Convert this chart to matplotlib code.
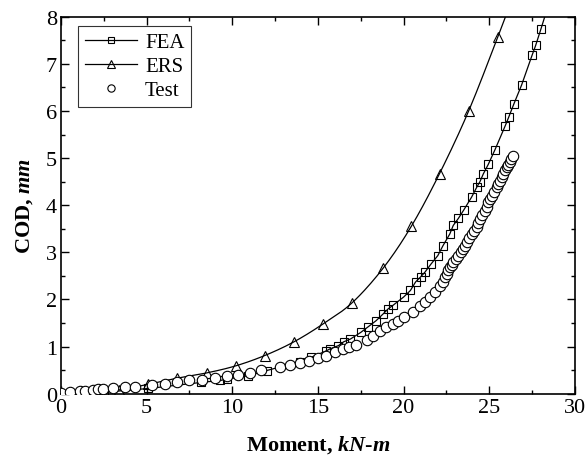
import matplotlib
matplotlib.use("Agg")
import matplotlib.pyplot as plt
import numpy as np
from matplotlib.ticker import MultipleLocator

plt.rcParams['font.family'] = ['Liberation Serif', 'DejaVu Serif']
plt.rcParams['mathtext.fontset'] = 'custom'
plt.rcParams['mathtext.rm'] = 'Liberation Serif'
plt.rcParams['mathtext.it'] = 'Liberation Serif:italic'
plt.rcParams['mathtext.bf'] = 'Liberation Serif:bold'
plt.rcParams['mathtext.bfit'] = 'Liberation Serif:bold:italic'

# FEA
fea_x = [0, 2.5, 5.1, 8.2, 9.3, 9.7, 10.9, 12.0, 13.95, 14.6, 15.5, 15.7, 16.2, 16.5,
         16.9, 17.5, 17.9, 18.4, 18.8, 19.1, 19.4, 20.0, 20.4, 20.7, 21.0, 21.25, 21.6,
         22.0, 22.3, 22.7, 22.9, 23.2, 23.5, 23.97, 24.27, 24.46, 24.65, 24.95, 25.34,
         25.94, 26.14, 26.43, 26.89, 27.5, 27.71, 28.02, 28.5]
fea_y = [0, 0.03, 0.11, 0.24, 0.28, 0.31, 0.38, 0.49, 0.68, 0.77, 0.91, 0.95, 1.02, 1.10,
         1.16, 1.30, 1.41, 1.55, 1.69, 1.80, 1.88, 2.05, 2.19, 2.37, 2.48, 2.58, 2.75,
         2.93, 3.14, 3.39, 3.57, 3.72, 3.89, 4.17, 4.38, 4.50, 4.66, 4.87, 5.18,
         5.69, 5.87, 6.14, 6.55, 7.18, 7.39, 7.74, 8.3]

# ERS
ers_x = [0, 1.7, 3.4, 5.1, 6.8, 8.5, 10.2, 11.9, 13.6, 15.3, 17.0, 18.8, 20.45, 22.1,
         23.8, 25.5, 27.2]
ers_y = [0, 0.03, 0.08, 0.20, 0.33, 0.44, 0.59, 0.81, 1.10, 1.48, 1.93, 2.66, 3.55, 4.67,
         6.0, 7.57, 9.2]

# Test
test_x = [0, 0.53, 1.1, 1.4, 1.9, 2.18, 2.43, 3.05, 3.74, 4.32, 5.29, 6.07, 6.77, 7.5,
          8.21, 8.99, 9.67, 10.35, 11.03, 11.7, 12.78, 13.37, 13.95, 14.5, 15.0, 15.5,
          16.0, 16.48, 16.83, 17.22, 17.85, 18.23, 18.62, 19.0, 19.4, 19.69, 20.02,
          20.53, 20.96, 21.25, 21.54, 21.83, 22.12, 22.3, 22.42, 22.51, 22.61, 22.71,
          22.8, 22.9, 23.05, 23.19, 23.33, 23.48, 23.58, 23.68, 23.82, 23.97, 24.12,
          24.27, 24.36, 24.46, 24.6, 24.75, 24.85, 24.95, 25.05, 25.14, 25.28, 25.43,
          25.53, 25.63, 25.72, 25.82, 25.92, 26.02, 26.12, 26.21, 26.3, 26.4]
test_y = [0.02, 0.04, 0.06, 0.06, 0.08, 0.09, 0.10, 0.11, 0.14, 0.15, 0.18, 0.21, 0.24,
          0.28, 0.30, 0.34, 0.37, 0.40, 0.44, 0.50, 0.56, 0.61, 0.65, 0.70, 0.75, 0.81,
          0.88, 0.95, 1.00, 1.03, 1.14, 1.22, 1.32, 1.41, 1.48, 1.55, 1.62,
          1.73, 1.87, 1.95, 2.05, 2.15, 2.29, 2.38, 2.47, 2.55, 2.62, 2.68,
          2.74, 2.79, 2.86, 2.93, 3.0, 3.07, 3.14, 3.21, 3.30, 3.39, 3.46,
          3.53, 3.62, 3.71, 3.80, 3.88, 3.97, 4.06, 4.13, 4.20, 4.29, 4.38,
          4.45, 4.52, 4.59, 4.66, 4.74, 4.81, 4.86, 4.91, 4.98, 5.04]


def catmull_rom(xs, ys, n=20):
    p = np.column_stack([xs, ys]).astype(float)
    p = np.vstack([2 * p[0] - p[1], p, 2 * p[-1] - p[-2]])
    out = []
    t = np.linspace(0, 1, n, endpoint=False)[:, None]
    for i in range(1, len(p) - 2):
        p0, p1, p2, p3 = p[i - 1], p[i], p[i + 1], p[i + 2]
        seg = 0.5 * ((2 * p1) + (-p0 + p2) * t + (2 * p0 - 5 * p1 + 4 * p2 - p3) * t ** 2
                     + (-p0 + 3 * p1 - 3 * p2 + p3) * t ** 3)
        out.append(seg)
    out.append(p[-2][None, :])
    out = np.vstack(out)
    return out[:, 0], out[:, 1]


fig = plt.figure(figsize=(5.86, 4.60), dpi=100)
ax = fig.add_axes([0.104, 0.142, 0.877, 0.8195])

ax.plot(fea_x, fea_y, color='black', lw=0.9, marker='s', ms=6.0, mfc='none',
        mec='black', mew=0.8, label='FEA', zorder=3)
sx, sy = catmull_rom(ers_x, ers_y)
ax.plot(sx, sy, color='black', lw=0.9, zorder=3)
ax.plot(ers_x, ers_y, color='black', lw=0.9, ls='none', marker='^', ms=7.5, mfc='none',
        mec='black', mew=0.8, zorder=3)
ax.plot([], [], color='black', lw=0.9, marker='^', ms=7.5, mfc='none',
        mec='black', mew=0.8, label='ERS')
ax.plot(test_x, test_y, linestyle='none', marker='o', ms=7.5, mfc='white',
        mec='black', mew=0.8, label='Test', zorder=4)

ax.set_xlim(0, 30)
ax.set_ylim(0, 8)
ax.xaxis.set_major_locator(MultipleLocator(5))
ax.xaxis.set_minor_locator(MultipleLocator(2.5))
ax.yaxis.set_major_locator(MultipleLocator(1))
ax.yaxis.set_minor_locator(MultipleLocator(0.5))
ax.tick_params(which='both', direction='in', top=True, right=True, labelsize=16,
               width=1.0)
ax.tick_params(which='major', length=6, pad=3)
ax.tick_params(which='minor', length=3)
for s in ax.spines.values():
    s.set_linewidth(1.2)

ax.set_xlabel(r'Moment, $\mathbfit{kN}$-$\mathbfit{m}$', fontsize=16,
              fontweight='bold', labelpad=12)
ax.set_ylabel(r'COD, $\mathbfit{mm}$', fontsize=16, fontweight='bold', labelpad=8)

leg = ax.legend(loc='upper left', bbox_to_anchor=(0.034, 0.975), fontsize=15,
                frameon=True, fancybox=False, edgecolor='black', markerscale=0.7,
                handlelength=2.5, handletextpad=0.4, borderpad=0.3, labelspacing=0.22,
                borderaxespad=0)
leg.get_frame().set_linewidth(0.8)

fig.savefig('out.png', dpi=100)
